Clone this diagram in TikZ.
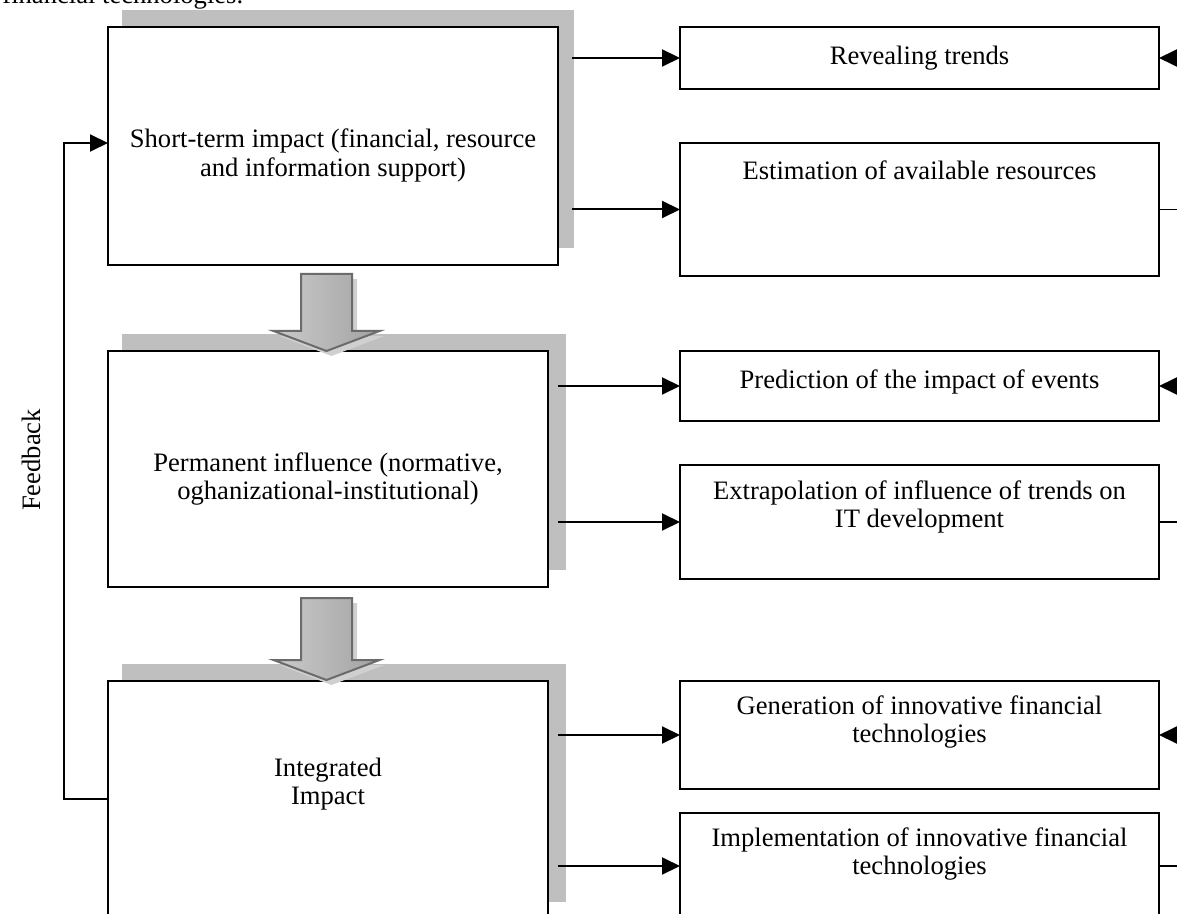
\documentclass[tikz,border=0pt]{standalone}
\usepackage{fontspec}
\setmainfont{Liberation Serif}
\usetikzlibrary{arrows.meta}
\definecolor{shadowgray}{HTML}{BFBFBF}
\definecolor{arrowshadow}{HTML}{D0D0D0}
\definecolor{arrowedge}{HTML}{6B6B6B}
\definecolor{gradlight}{HTML}{CBCBCB}
\definecolor{graddark}{HTML}{A2A2A2}
\begin{document}
\begin{tikzpicture}[x=0.5pt,y=-0.5pt,
  font=\fontsize{13.3}{14.4}\selectfont,
  box/.style={draw=black,line width=1pt,fill=white,inner sep=0pt,outer sep=0pt,anchor=north west},
  txt/.style={align=center,inner sep=0pt},
  arr/.style={line width=1pt,-{Triangle[length=9pt,width=8.5pt]}},
  plainline/.style={line width=0.8pt},
  blockarrow/.style={draw=arrowedge,line width=1pt,left color=gradlight,right color=graddark},
  blockarr/.pic={
    \fill[arrowshadow] (-20.5,-#1+5) -- (30.5,-#1+5) -- (30.5,-15) -- (58,-15) -- (5,5) -- (-47,-15) -- (-20.5,-15) -- cycle;
    \draw[blockarrow] (-25.5,-#1) -- (25.5,-#1) -- (25.5,-20) -- (53,-20) -- (0,0) -- (-53,-20) -- (-25.5,-20) -- cycle;
  }]
\useasboundingbox (0,0) rectangle (1177,914);
\clip (0,0) rectangle (1177,914);

% partial caption at the top
\node[anchor=base west,inner sep=0pt] (cap) at (2,4) {financial technologies.};

% shadows
\fill[shadowgray] (122,10) rectangle (574,248);
\fill[shadowgray] (122,334) rectangle (566,570);
\fill[shadowgray] (122,664) rectangle (566,902);

% left boxes
\node[box,minimum width=225pt,minimum height=119pt] (b1) at (108,27) {};
\node[box,minimum width=220pt,minimum height=118pt] (b2) at (108,351) {};
\node[box,minimum width=220pt,minimum height=130pt] (b3) at (108,681) {};

\node[txt] (t1) at (333,155.5) {Short-term impact (financial, resource\\and information support)};
\node[txt] (t2) at (328,479) {Permanent influence (normative,\\oghanizational-institutional)};
\node[txt] (t3) at (328,784) {Integrated\\Impact};

% right boxes
\node[box,minimum width=239.5pt,minimum height=31pt] (r1) at (680,27) {};
\node[box,minimum width=239.5pt,minimum height=66.5pt] (r2) at (680,143) {};
\node[box,minimum width=239.5pt,minimum height=35pt] (r3) at (680,351) {};
\node[box,minimum width=239.5pt,minimum height=57pt] (r4) at (680,465) {};
\node[box,minimum width=239.5pt,minimum height=54pt] (r5) at (680,681) {};
\node[box,minimum width=239.5pt,minimum height=53pt] (r6) at (680,813) {};

\node[txt] (tr1) at (919.5,58) {Revealing trends};
\node[txt] (tr2) at (919.5,170) {Estimation of available resources};
\node[txt] (tr3) at (919.5,382) {Prediction of the impact of events};
\node[txt] (tr4) at (919.5,507) {Extrapolation of influence of trends on\\IT development};
\node[txt] (tr5) at (919.5,722) {Generation of innovative financial\\technologies};
\node[txt] (tr6) at (919.5,854) {Implementation of innovative financial\\technologies};

% block arrows
\pic (ba1) at (326.5,351) {blockarr=77};
\pic (ba2) at (326.5,680) {blockarr=82};

% arrows from left boxes to right boxes
\coordinate (sx1) at (572,0);
\coordinate (sx2) at (558,0);
\draw[arr] (sx1 |- r1.west) -- (r1.west);
\draw[arr] (sx1 |- r2.west) -- (r2.west);
\draw[arr] (sx2 |- r3.west) -- (r3.west);
\draw[arr] (sx2 |- r4.west) -- (r4.west);
\draw[arr] (sx2 |- r5.west) -- (r5.west);
\draw[arr] (sx2 |- r6.west) -- (r6.west);

% connectors at the right edge
\coordinate (ex) at (1195,0);
\draw[arr] (ex |- r1.east) -- (r1.east);
\draw[plainline] (r2.east) -- (ex |- r2.east);
\draw[arr] (ex |- r3.east) -- (r3.east);
\draw[plainline] (r4.east) -- (ex |- r4.east);
\draw[arr] (ex |- r5.east) -- (r5.east);
\draw[plainline] (r6.east) -- (ex |- r6.east);

% feedback loop
\coordinate (fb1) at (64,799);
\coordinate (fb2) at (64,143);
\draw[arr] (b3.west |- fb1) -- (fb1) -- (fb2) -- (b1.west |- fb2);
\node[rotate=90,inner sep=0pt] (fb) at (31,460) {Feedback};
\end{tikzpicture}
\end{document}
